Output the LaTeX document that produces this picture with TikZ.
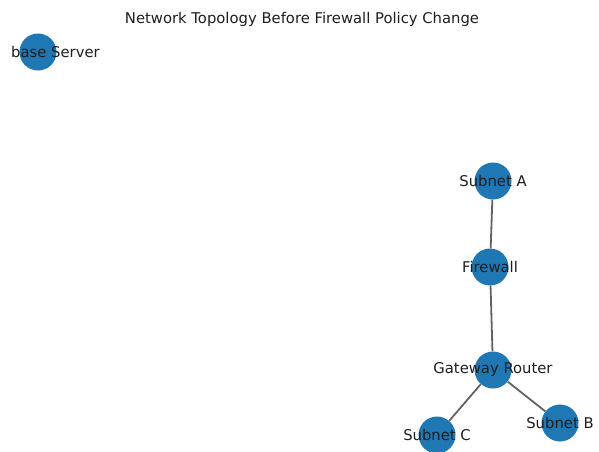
\documentclass[tikz,border=0pt]{standalone}
\usepackage{fontspec}
\setmainfont{DejaVu Sans}
\usetikzlibrary{backgrounds}
\definecolor{nodeblue}{HTML}{1F77B4}
\definecolor{edgegray}{HTML}{626262}
\definecolor{txt}{HTML}{1E1E1E}
\tikzset{
  lbl/.style={text=txt, font=\fontsize{14.8}{16}\selectfont, inner sep=0pt},
  host/.style={circle, fill=nodeblue, draw=none, minimum size=37pt, inner sep=0pt,
    label={[lbl]center:#1}},
  link/.style={draw=edgegray, line width=1.8pt},
  heading/.style={lbl}
}
\begin{document}
\begin{tikzpicture}[x=1pt, y=-1pt]
  \useasboundingbox (0,0) rectangle (599,451);
  \clip (0,0) rectangle (599,451);
  \node[heading] (title) at (302,19) {Network Topology Before Firewall Policy Change};
  \node[host={}] (db) at (38,52) {};
  \node[lbl] (dbname) at (55.5,52) {base Server};
  \node[host={Subnet A}] (sa) at (493,181) {};
  \node[host={Firewall}] (fw) at (490,267) {};
  \node[host={Gateway Router}] (gw) at (493,370) {};
  \node[host={Subnet C}] (sc) at (437,435) {};
  \node[host={Subnet B}] (sb) at (560,423) {};
  \begin{scope}[on background layer]
    \draw[link] (sa) -- (fw);
    \draw[link] (fw) -- (gw);
    \draw[link] (gw) -- (sc);
    \draw[link] (gw) -- (sb);
  \end{scope}
\end{tikzpicture}
\end{document}
